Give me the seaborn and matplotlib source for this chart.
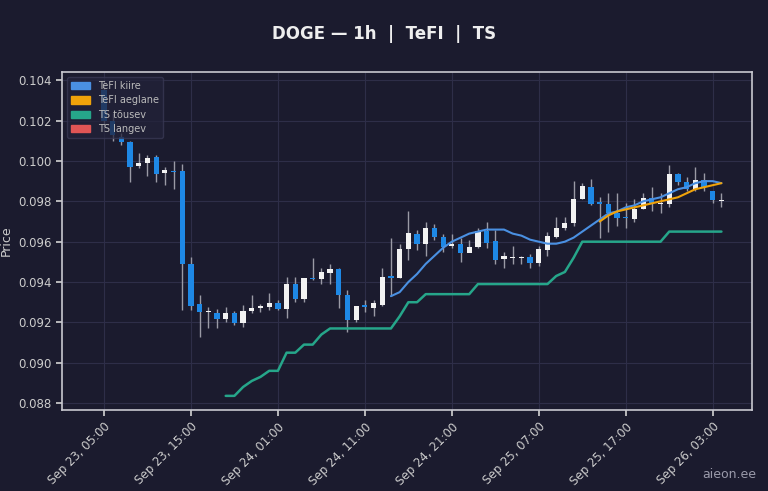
import pandas as pd
import numpy as np
import matplotlib
matplotlib.use('Agg')
import matplotlib.pyplot as plt
from matplotlib.patches import Patch
import seaborn as sns

# ---- andmed (tunniküünlad alates 23.09 05:00) ----
opens = [0.1035, 0.1020, 0.10118, 0.10093, 0.09974, 0.09989, 0.10019, 0.09940, 0.09950, 0.09950,
         0.09489, 0.09291, 0.09252, 0.09247, 0.09217, 0.09247, 0.09197, 0.09257, 0.09271, 0.09276,
         0.09296, 0.09266, 0.09390, 0.09316, 0.09418, 0.09413, 0.09445, 0.09465, 0.09336, 0.09212,
         0.09286, 0.09271, 0.09286, 0.09428, 0.09420, 0.09564, 0.09638, 0.09589, 0.09668, 0.09623,
         0.09579, 0.09589, 0.09545, 0.09574, 0.09653, 0.09604, 0.09515, 0.09520, 0.09520, 0.09525,
         0.09495, 0.09559, 0.09623, 0.09668, 0.09693, 0.09811, 0.09871, 0.09796, 0.09786, 0.09742,
         0.09720, 0.09712, 0.09762, 0.09816, 0.09786, 0.09786, 0.09935, 0.09895, 0.09861, 0.09905,
         0.09851, 0.09801]
closes = [0.1020, 0.1013, 0.10093, 0.09970, 0.09989, 0.10014, 0.09935, 0.09955, 0.09945, 0.09489,
          0.09281, 0.09252, 0.09257, 0.09217, 0.09247, 0.09197, 0.09257, 0.09271, 0.09281, 0.09296,
          0.09266, 0.09390, 0.09316, 0.09420, 0.09413, 0.09450, 0.09465, 0.09336, 0.09212, 0.09281,
          0.09276, 0.09296, 0.09425, 0.09420, 0.09564, 0.09643, 0.09589, 0.09668, 0.09623, 0.09574,
          0.09589, 0.09545, 0.09574, 0.09653, 0.09594, 0.09510, 0.09530, 0.09525, 0.09522, 0.09495,
          0.09564, 0.09628, 0.09668, 0.09693, 0.09811, 0.09876, 0.09786, 0.09786, 0.09742, 0.09717,
          0.09715, 0.09762, 0.09816, 0.09791, 0.09791, 0.09935, 0.09895, 0.09861, 0.09905, 0.09870,
          0.09806, 0.09806]
highs = [0.1040, 0.1024, 0.10138, 0.1010, 0.10039, 0.10030, 0.10030, 0.09970, 0.1000, 0.09984,
         0.09524, 0.09336, 0.09276, 0.09266, 0.09276, 0.09256, 0.09286, 0.09336, 0.0929, 0.09346,
         0.0931, 0.09425, 0.09425, 0.09420, 0.0952, 0.0947, 0.0949, 0.0947, 0.0936, 0.0928,
         0.0931, 0.0931, 0.0947, 0.0962, 0.0959, 0.0975, 0.0966, 0.0970, 0.0969, 0.0964,
         0.0964, 0.0962, 0.0961, 0.0967, 0.0970, 0.0966, 0.0955, 0.0958, 0.0953, 0.0954,
         0.0958, 0.0965, 0.0972, 0.0972, 0.0990, 0.0989, 0.0991, 0.0982, 0.0984, 0.0984,
         0.0979, 0.0981, 0.0984, 0.0987, 0.0984, 0.0998, 0.0994, 0.0992, 0.0997, 0.0994,
         0.0985, 0.0984]
lows = [0.1016, 0.1010, 0.10078, 0.09895, 0.09964, 0.09925, 0.09895, 0.0988, 0.0986, 0.09262,
        0.09262, 0.09128, 0.09172, 0.09172, 0.09202, 0.09187, 0.09177, 0.09247, 0.0925, 0.0926,
        0.0926, 0.0922, 0.0930, 0.0930, 0.0941, 0.0939, 0.0939, 0.0927, 0.0915, 0.0920,
        0.0925, 0.0923, 0.0928, 0.0933, 0.0942, 0.0951, 0.0956, 0.0953, 0.0961, 0.0955,
        0.0957, 0.0950, 0.0955, 0.0957, 0.0957, 0.0949, 0.0947, 0.0949, 0.0949, 0.0947,
        0.0948, 0.0953, 0.0962, 0.0966, 0.0968, 0.0981, 0.0978, 0.0962, 0.0965, 0.0968,
        0.0967, 0.0970, 0.0976, 0.0975, 0.0974, 0.0977, 0.0988, 0.0985, 0.0985, 0.0985,
        0.0979, 0.0977]

tefi_fast = [0.0933, 0.0935, 0.0940, 0.0944, 0.0949, 0.0953, 0.0957, 0.0960, 0.0962, 0.0964,
             0.0965, 0.0966, 0.0966, 0.0966, 0.0964, 0.0963, 0.0961, 0.0960, 0.0959, 0.0959,
             0.0960, 0.0962, 0.0965, 0.0968, 0.0971, 0.0974, 0.0975, 0.0977, 0.0978, 0.0980,
             0.0981, 0.0982, 0.0984, 0.0986, 0.0987, 0.0989, 0.0990, 0.0990, 0.0989]  # alates i=33
tefi_slow = [0.0970, 0.0973, 0.0975, 0.0976, 0.0977, 0.0978, 0.0979, 0.0980, 0.0981, 0.0982,
             0.0984, 0.0986, 0.0987, 0.0988, 0.0989]  # alates i=57
ts_up = [0.08836, 0.08836, 0.0888, 0.0891, 0.0893, 0.0896, 0.0896, 0.0905, 0.0905, 0.0909,
         0.0909, 0.0914, 0.0917, 0.0917, 0.0917, 0.0917, 0.0917, 0.0917, 0.0917, 0.0917,
         0.0923, 0.0930, 0.0930, 0.0934, 0.0934, 0.0934, 0.0934, 0.0934, 0.0934, 0.0939,
         0.0939, 0.0939, 0.0939, 0.0939, 0.0939, 0.0939, 0.0939, 0.0939, 0.0943, 0.0945,
         0.0952, 0.0960, 0.0960, 0.0960, 0.0960, 0.0960, 0.0960, 0.0960, 0.0960, 0.0960,
         0.0960, 0.0965, 0.0965, 0.0965, 0.0965, 0.0965, 0.0965, 0.0965]  # alates i=14

times = pd.date_range('2024-09-23 05:00', periods=len(opens), freq='h')
df = pd.DataFrame({'time': times, 'open': opens, 'close': closes, 'high': highs, 'low': lows})

BG = '#1b1b2e'
UP = '#f2f2f2'
DOWN = '#1e88e5'
C_FAST, C_SLOW, C_UP, C_DN = '#4a90e2', '#f0a30a', '#26a68a', '#e05555'

sns.set_theme(style='dark')
plt.rcParams['font.family'] = ['DejaVu Sans']

fig = plt.figure(figsize=(7.68, 4.91), dpi=100, facecolor=BG)
ax = fig.add_axes([0.081, 0.165, 0.898, 0.688])
ax.set_facecolor(BG)

w = 0.6 / 24
for _, r in df.iterrows():
    col = UP if r['close'] >= r['open'] else DOWN
    ax.vlines(r['time'], r['low'], r['high'], color='#9a9aa5', linewidth=1, zorder=2)
    body = abs(r['close'] - r['open'])
    ax.bar(r['time'], max(body, 0.00003), width=w, bottom=min(r['open'], r['close']),
           color=col, linewidth=0, zorder=3)

sns.lineplot(x=times[33:33 + len(tefi_fast)], y=tefi_fast, ax=ax, color=C_FAST,
             linewidth=1.5, zorder=4, legend=False)
sns.lineplot(x=times[57:57 + len(tefi_slow)], y=tefi_slow, ax=ax, color=C_SLOW,
             linewidth=1.5, zorder=4, legend=False)
sns.lineplot(x=times[14:14 + len(ts_up)], y=ts_up, ax=ax, color=C_UP,
             linewidth=1.8, zorder=4, legend=False)

ax.set_xlim(times[0] - pd.Timedelta(hours=4.8), times[0] + pd.Timedelta(hours=74.5))
ax.set_ylim(0.08766, 0.10440)
ticks = pd.date_range('2024-09-23 05:00', periods=8, freq='10h')
ax.set_xticks(ticks)
ax.set_xticklabels([t.strftime('%b %d, %H:%M') for t in ticks], rotation=45, ha='right',
                   rotation_mode='anchor', color='#cccccc', fontsize=8.5)
ax.yaxis.set_major_formatter(matplotlib.ticker.FormatStrFormatter('%.3f'))
ax.tick_params(axis='y', colors='#cccccc', labelsize=8.5, left=True, length=4)
ax.tick_params(axis='x', bottom=True, length=4, colors='#cccccc')
ax.grid(True, color='#2e2e48', linewidth=0.8)
for s in ax.spines.values():
    s.set_color('#c8c8d0')
    s.set_linewidth(1.2)
ax.set_xlabel('')
ax.set_ylabel('Price', color='#cccccc', fontsize=9)

handles = [Patch(color=C_FAST, label='TeFI kiire'), Patch(color=C_SLOW, label='TeFI aeglane'),
           Patch(color=C_UP, label='TS tõusev'), Patch(color=C_DN, label='TS langev')]
leg = ax.legend(handles=handles, loc='upper left', fontsize=7, facecolor='#22223a',
                edgecolor='#3a3a55', handlelength=2.0, handleheight=0.8, borderpad=0.4,
                labelspacing=0.45, framealpha=0.75)
for t in leg.get_texts():
    t.set_color('#bbbbbb')

fig.text(0.5, 0.93, 'DOGE — 1h  |  TeFI  |  TS', ha='center', va='center',
         color='#eeeeee', fontsize=12, fontweight='bold')
fig.text(0.985, 0.02, 'aieon.ee', ha='right', va='bottom', color='#9a9aaa', fontsize=9)

fig.savefig('out.png', dpi=100, facecolor=BG)
